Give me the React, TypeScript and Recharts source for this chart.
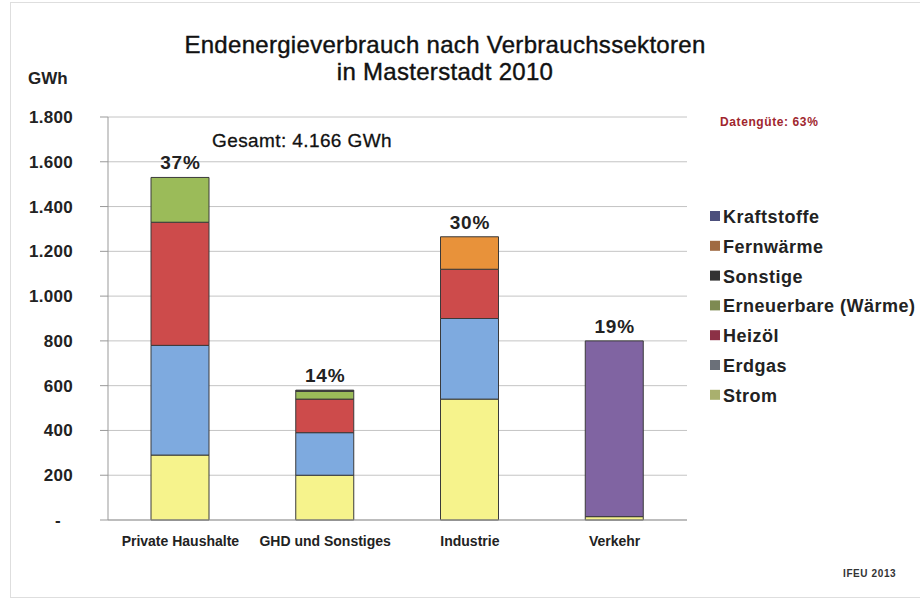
import { Bar, CartesianGrid, ComposedChart, LabelList, Line, XAxis, YAxis } from 'recharts'

const sectors = ['Private Haushalte', 'GHD und Sonstiges', 'Industrie', 'Verkehr']
const strom = [290, 200, 540, 15]
const erdgas = [490, 190, 360, 0]
const heizoel = [550, 150, 220, 0]
const erneuerbare = [200, 35, 0, 0]
const sonstige = [0, 5, 0, 0]
const fernwaerme = [0, 0, 145, 0]
const kraftstoffe = [0, 0, 0, 785]
const shares = ['37%', '14%', '30%', '19%']
const yTicks = [0, 200, 400, 600, 800, 1000, 1200, 1400, 1600, 1800]

const series = [
  { key: 'strom', name: 'Strom', values: strom, fill: '#f6f38c', legend: '#a9b06e' },
  { key: 'erdgas', name: 'Erdgas', values: erdgas, fill: '#7eaadf', legend: '#6b7079' },
  { key: 'heizoel', name: 'Heizöl', values: heizoel, fill: '#cd4b4b', legend: '#8c3146' },
  { key: 'erneuerbare', name: 'Erneuerbare (Wärme)', values: erneuerbare, fill: '#9bbb59', legend: '#7e8a52' },
  { key: 'sonstige', name: 'Sonstige', values: sonstige, fill: '#2a2a2a', legend: '#333333' },
  { key: 'fernwaerme', name: 'Fernwärme', values: fernwaerme, fill: '#e8923a', legend: '#a06a42' },
  { key: 'kraftstoffe', name: 'Kraftstoffe', values: kraftstoffe, fill: '#8064a2', legend: '#4c4f7c' },
]

const data = sectors.map((name, i) => {
  const row: Record<string, any> = { name, share: shares[i] }
  let total = 0
  series.forEach((s) => {
    row[s.key] = s.values[i]
    total += s.values[i]
  })
  row.total = total
  return row
})

const font = '"Liberation Sans", Arial, sans-serif'
const fmt = (v: number) => (v === 0 ? '-' : v.toLocaleString('de-DE'))

function YTick({ x, y, payload }: any) {
  const isZero = payload.value === 0
  return (
    <text x={isZero ? x - 12 : x} y={y} dy={6} textAnchor="end" fontSize={17} fontWeight="bold" fill="#222" fontFamily={font} letterSpacing={0.3}>
      {fmt(payload.value)}
    </text>
  )
}

function ShareLabel({ x, y, value }: any) {
  return (
    <text x={x} y={y - 8} textAnchor="middle" fontSize={19} fontWeight="bold" fill="#222" fontFamily={font} letterSpacing={0.8}>
      {value}
    </text>
  )
}

export default function App() {
  return (
    <div style={{ position: 'absolute', left: 0, top: 0, width: 920, height: 601, background: '#fff', fontFamily: font }}>
      <div style={{ position: 'absolute', left: 10, top: 2, width: 920, height: 594, border: '1px solid #dedede' }} />
      <ComposedChart width={920} height={601} data={data} margin={{ top: 117, right: 233, bottom: 51, left: 0 }}>
        <CartesianGrid vertical={false} stroke="#c4c4c4" />
        <XAxis
          dataKey="name"
          height={30}
          stroke="#999"
          tickSize={0}
          tickMargin={16}
          tick={{ fontSize: 14, fontWeight: 'bold', fill: '#222', fontFamily: font }}
        />
        <YAxis
          width={108}
          domain={[0, 1800]}
          ticks={yTicks}
          stroke="#999"
          tickSize={8}
          tickMargin={27}
          interval={0}
          tick={<YTick />}
        />
        {series.map((s) => (
          <Bar
            key={s.key}
            dataKey={s.key}
            name={s.name}
            stackId="a"
            fill={s.fill}
            stroke="#3a3a3a"
            strokeWidth={1}
            barSize={58}
            isAnimationActive={false}
          />
        ))}
        <Line dataKey="total" stroke="none" dot={false} activeDot={false} legendType="none" isAnimationActive={false}>
          <LabelList dataKey="share" content={<ShareLabel />} />
        </Line>
        <text x={445} y={53} textAnchor="middle" fontSize={24} fill="#111" stroke="#111" strokeWidth={0.4} letterSpacing={0.3} fontFamily={font}>
          Endenergieverbrauch nach Verbrauchssektoren
        </text>
        <text x={445} y={80} textAnchor="middle" fontSize={24} fill="#111" stroke="#111" strokeWidth={0.4} letterSpacing={0.3} fontFamily={font}>
          in Masterstadt 2010
        </text>
        <text x={28} y={84} fontSize={17} fontWeight="bold" fill="#222" fontFamily={font}>
          GWh
        </text>
        <text x={212} y={147} fontSize={19} fill="#111" stroke="#111" strokeWidth={0.3} letterSpacing={0.4} fontFamily={font}>
          Gesamt: 4.166 GWh
        </text>
        <text x={720} y={126} fontSize={12} fontWeight="bold" fill="#a0262e" letterSpacing={0.6} fontFamily={font}>
          Datengüte: 63%
        </text>
        <text x={843} y={577} fontSize={10} fontWeight="bold" fill="#333" letterSpacing={0.6} fontFamily={font}>
          IFEU 2013
        </text>
        {[...series].reverse().map((s, i) => (
          <g key={s.key}>
            <rect x={710} y={211 + i * 29.8} width={10} height={10} fill={s.legend} />
            <text x={723} y={223 + i * 29.8} fontSize={18} fontWeight="bold" fill="#222" letterSpacing={0.5} fontFamily={font}>
              {s.name}
            </text>
          </g>
        ))}
      </ComposedChart>
    </div>
  )
}
